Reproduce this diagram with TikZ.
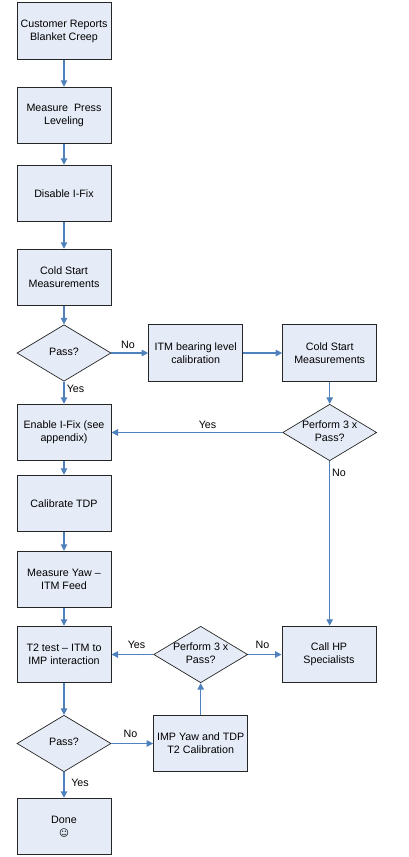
\documentclass[tikz,border=0pt]{standalone}
\usepackage{fontspec}
\setmainfont{Liberation Sans}
\newfontfamily\symfont{DejaVu Sans}
\usetikzlibrary{arrows.meta,shapes.geometric}
\definecolor{boxfill}{HTML}{E6ECF7}
\definecolor{linkblue}{HTML}{4F81BD}
\tikzset{
  txt/.style={font=\fontsize{10.7}{13}\selectfont,align=center,inner sep=0pt,text=black},
  stepbox/.style={draw=black!85,line width=1pt,fill=boxfill,minimum width=94pt,minimum height=56.5pt,inner sep=0pt,txt},
  dia/.style={diamond,draw=black!85,line width=0.7pt,fill=boxfill,minimum width=94pt,minimum height=56.5pt,inner sep=0pt,aspect=1.66},
  link/.style={draw=linkblue,line width=1.1pt,-{Triangle[length=6.5pt,width=6.5pt]}},
  lab/.style={txt}
}
\begin{document}
\begin{tikzpicture}[x=1pt,y=-1pt]
\useasboundingbox (0,0) rectangle (409,857);
\node[stepbox] (b1) at (64,31) {Customer Reports\\Blanket Creep};
\node[stepbox] (b2) at (64,115.5) {Measure\ \ Press\\Leveling};
\node[stepbox] (b3) at (64,193.5) {Disable I-Fix};
\node[stepbox] (b4) at (64,277.5) {Cold Start\\Measurements};
\node[dia] (pass1) at (64,353) {};
\node[txt] (pass1t) at (64,351.5) {Pass?};
\node[stepbox] (itm) at (195.7,353) {ITM bearing level\\calibration};
\node[stepbox] (cold2) at (329.7,353) {Cold Start\\Measurements};
\node[dia] (perf1) at (329.7,432.5) {};
\node[txt] (perf1t) at (329.7,431) {Perform 3 x\\Pass?};
\node[stepbox] (enable) at (64,432.5) {Enable I-Fix (see\\appendix)};
\node[stepbox] (calib) at (64,503.5) {Calibrate TDP};
\node[stepbox] (yaw) at (64,579.5) {Measure Yaw --\\ITM Feed};
\node[stepbox] (t2) at (64,654.5) {T2 test -- ITM to\\IMP interaction};
\node[dia] (perf2) at (200.7,654.5) {};
\node[txt] (perf2t) at (200.7,653) {Perform 3 x\\Pass?};
\node[stepbox] (call) at (329,654.5) {Call HP\\Specialists};
\node[dia] (pass2) at (64,743.5) {};
\node[txt] (pass2t) at (64,742) {Pass?};
\node[stepbox] (imp) at (200.7,743.5) {IMP Yaw and TDP\\T2 Calibration};
\node[stepbox] (done) at (64,826.5) {Done\\{\symfont\fontsize{9.5}{13}\selectfont ☺}};

\draw[link] (b1) -- (b2);
\draw[link] (b2) -- (b3);
\draw[link] (b3) -- (b4);
\draw[link] (b4) -- (pass1);
\draw[link] (pass1) -- (itm);
\draw[link] (itm) -- (cold2);
\draw[link] (cold2) -- (perf1);
\draw[link] (pass1) -- (enable);
\draw[link] (perf1) -- (enable);
\draw[link] (enable) -- (calib);
\draw[link] (calib) -- (yaw);
\draw[link] (yaw) -- (t2);
\draw[link] (perf1.south) -- (perf1.south |- call.north);
\draw[link] (perf2) -- (t2);
\draw[link] (perf2) -- (call);
\draw[link] (imp) -- (perf2);
\draw[link] (t2) -- (pass2);
\draw[link] (pass2) -- (imp);
\draw[link] (pass2) -- (done);

\node[lab] (l1) at (128,345) {No};
\node[lab] (l2) at (75.5,388.5) {Yes};
\node[lab] (l3) at (207.5,424.5) {Yes};
\node[lab] (l4) at (339,472.5) {No};
\node[lab] (l5) at (136.5,645) {Yes};
\node[lab] (l6) at (262.5,645) {No};
\node[lab] (l7) at (130.5,734) {No};
\node[lab] (l8) at (80,783) {Yes};
\end{tikzpicture}
\end{document}
